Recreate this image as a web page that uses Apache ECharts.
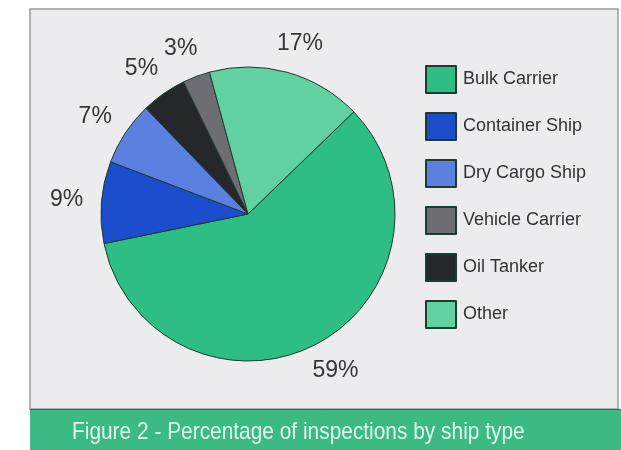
<!DOCTYPE html>
<html>
<head>
<meta charset="utf-8">
<script src="https://cdn.jsdelivr.net/npm/echarts@6/dist/echarts.min.js"></script>
<style>
  html, body { margin: 0; padding: 0; background: #ffffff; }
  #chart { width: 621px; height: 450px; }
</style>
</head>
<body>
<div id="chart"></div>
<script>
// Inspections by ship type, in percent (drawn clockwise from the Bulk Carrier slice)
const shipTypes = ['Bulk Carrier', 'Container Ship', 'Dry Cargo Ship', 'Oil Tanker', 'Vehicle Carrier', 'Other'];
const shares = [59, 9, 7, 5, 3, 17];
const legendOrder = ['Bulk Carrier', 'Container Ship', 'Dry Cargo Ship', 'Vehicle Carrier', 'Oil Tanker', 'Other'];
const caption = 'Figure 2 - Percentage of inspections by ship type';

const sliceColors = {
  'Bulk Carrier': '#2fbd86',
  'Container Ship': '#1b4dcc',
  'Dry Cargo Ship': '#5b80e0',
  'Oil Tanker': '#25272b',
  'Vehicle Carrier': '#6e6e72',
  'Other': '#62d1a1'
};

const pieData = shipTypes.map((name, i) => ({
  name: name,
  value: shares[i],
  itemStyle: { color: sliceColors[name] }
}));

const chart = echarts.init(document.getElementById('chart'), null, { renderer: 'canvas' });

chart.setOption({
  animation: false,
  backgroundColor: '#ffffff',
  graphic: [
    {
      type: 'rect', z: -10,
      shape: { x: 30, y: 9, width: 588, height: 400 },
      style: { fill: '#ececee', stroke: '#9a9a9c', lineWidth: 1.5 }
    },
    {
      type: 'rect', z: -9,
      shape: { x: 30, y: 409, width: 591, height: 41 },
      style: { fill: '#3cba84' }
    },
    {
      type: 'line', z: -8,
      shape: { x1: 30, y1: 409.5, x2: 621, y2: 409.5 },
      style: { stroke: '#2a6e50', lineWidth: 1 }
    },
    {
      // caption set in a condensed face: horizontally squeezed text
      type: 'text', z: 5,
      x: 72, y: 432,
      scaleX: 0.87,
      style: {
        text: caption,
        fill: '#dff7ec',
        font: "normal 24px 'Liberation Sans', Arial, sans-serif",
        verticalAlign: 'middle',
        align: 'left'
      }
    }
  ],
  legend: {
    orient: 'vertical',
    left: 425,
    top: 65,
    padding: 0,
    itemWidth: 30,
    itemHeight: 27,
    itemGap: 18,
    icon: 'rect',
    data: legendOrder,
    textStyle: {
      color: '#333333',
      fontFamily: "'Liberation Sans', Arial, sans-serif",
      fontSize: 18,
      padding: [0, 0, 0, 2]
    }
  },
  series: [{
    type: 'pie',
    center: [248, 214],
    radius: 147,
    startAngle: 44,
    clockwise: true,
    avoidLabelOverlap: false,
    itemStyle: { borderColor: '#1d3b2e', borderWidth: 1 },
    label: {
      show: true,
      position: 'outside',
      formatter: '{c}%',
      color: '#363636',
      fontFamily: "'Liberation Sans', Arial, sans-serif",
      fontSize: 23
    },
    labelLine: { show: false, length: 30, length2: 0 },
    labelLayout: { align: 'center' },
    emphasis: { disabled: true },
    data: pieData
  }]
});
</script>
</body>
</html>
